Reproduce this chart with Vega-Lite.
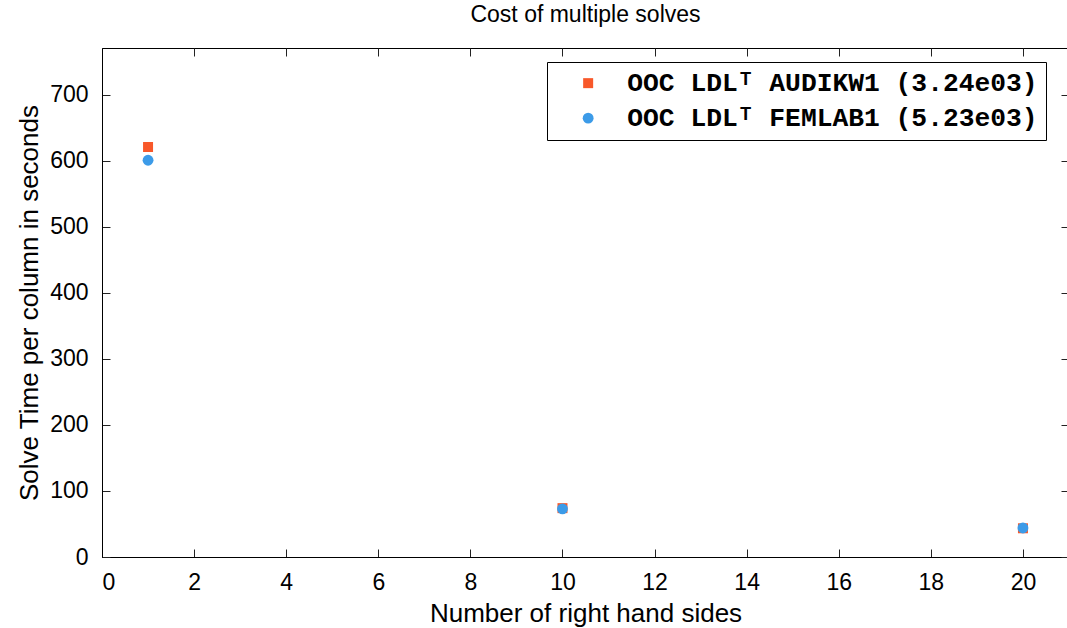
{
  "$schema": "https://vega.github.io/schema/vega-lite/v6.json",
  "width": 967,
  "height": 509,
  "autosize": "none",
  "padding": {"left": 102, "top": 48, "right": 0, "bottom": 71},
  "background": "white",
  "title": {
    "text": "Cost of multiple solves",
    "font": "Liberation Sans",
    "fontSize": 23,
    "fontWeight": "normal",
    "color": "black",
    "anchor": "middle",
    "baseline": "alphabetic",
    "offset": 3
  },
  "data": {
    "values": [
      {"series": "OOC LDLᵀ AUDIKW1 (3.24e03)", "rhs": 1, "time": 621},
      {"series": "OOC LDLᵀ AUDIKW1 (3.24e03)", "rhs": 10, "time": 74},
      {"series": "OOC LDLᵀ AUDIKW1 (3.24e03)", "rhs": 20, "time": 43.5},
      {"series": "OOC LDLᵀ FEMLAB1 (5.23e03)", "rhs": 1, "time": 601},
      {"series": "OOC LDLᵀ FEMLAB1 (5.23e03)", "rhs": 10, "time": 73},
      {"series": "OOC LDLᵀ FEMLAB1 (5.23e03)", "rhs": 20, "time": 44}
    ]
  },
  "layer": [
    {
      "mark": {"type": "point", "filled": true, "opacity": 1, "strokeWidth": 0.8},
      "encoding": {
        "x": {
          "field": "rhs", "type": "quantitative",
          "scale": {"domain": [0, 21], "nice": false, "zero": false},
          "axis": {"orient": "bottom", "values": [0,2,4,6,8,10,12,14,16,18,20], "title": "Number of right hand sides", "titlePadding": 6}
        },
        "y": {
          "field": "time", "type": "quantitative",
          "scale": {"domain": [0, 771], "nice": false},
          "axis": {"orient": "left", "values": [0,100,200,300,400,500,600,700], "title": "Solve Time per column in seconds", "titlePadding": 7}
        },
        "color": {
          "field": "series", "type": "nominal",
          "scale": {"domain": ["OOC LDLᵀ AUDIKW1 (3.24e03)", "OOC LDLᵀ FEMLAB1 (5.23e03)"], "range": ["#f8582a", "#3c9be8"]},
          "legend": {"title": null, "labelExpr": "datum.label + '\u00a0\u00a0'"}
        },
        "shape": {
          "field": "series", "type": "nominal",
          "scale": {"domain": ["OOC LDLᵀ AUDIKW1 (3.24e03)", "OOC LDLᵀ FEMLAB1 (5.23e03)"], "range": ["square", "circle"]},
          "legend": {"title": null, "labelExpr": "datum.label + '\u00a0\u00a0'"}
        },
        "size": {
          "field": "series", "type": "nominal",
          "scale": {"domain": ["OOC LDLᵀ AUDIKW1 (3.24e03)", "OOC LDLᵀ FEMLAB1 (5.23e03)"], "range": [100, 118]},
          "legend": null
        }
      }
    },
    {
      "mark": {"type": "point", "opacity": 0},
      "encoding": {
        "x": {
          "field": "rhs", "type": "quantitative",
          "scale": {"domain": [0, 21], "nice": false, "zero": false},
          "axis": {"orient": "top", "values": [0,2,4,6,8,10,12,14,16,18,20], "labels": false, "title": null, "domain": false}
        },
        "y": {
          "field": "time", "type": "quantitative",
          "scale": {"domain": [0, 771], "nice": false},
          "axis": {"orient": "right", "values": [0,100,200,300,400,500,600,700], "labels": false, "title": null, "domain": false}
        }
      }
    }
  ],
  "resolve": {"axis": {"x": "independent", "y": "independent"}},
  "config": {
    "view": {"stroke": "black", "strokeWidth": 1},
    "axis": {
      "grid": false,
      "domain": true,
      "domainColor": "black",
      "domainWidth": 1,
      "tickColor": "#222222",
      "tickSize": -8,
      "tickWidth": 1,
      "labelPadding": 22,
      "labelFont": "Liberation Sans",
      "labelFontSize": 23,
      "labelColor": "black",
      "titleFont": "Liberation Sans",
      "titleFontSize": 26,
      "titleFontWeight": "normal",
      "titleColor": "black"
    },
    "legend": {
      "orient": "none",
      "legendX": 445,
      "legendY": 14,
      "strokeColor": "black",
      "fillColor": "white",
      "padding": 8,
      "labelFont": "Liberation Mono",
      "labelFontWeight": "bold",
      "labelFontSize": 26.3,
      "labelColor": "black",
      "labelLimit": 0,
      "symbolSize": 100,
      "symbolOffset": 20,
      "labelOffset": 26,
      "rowPadding": 8,
      "symbolStrokeWidth": 0
    }
  }
}
